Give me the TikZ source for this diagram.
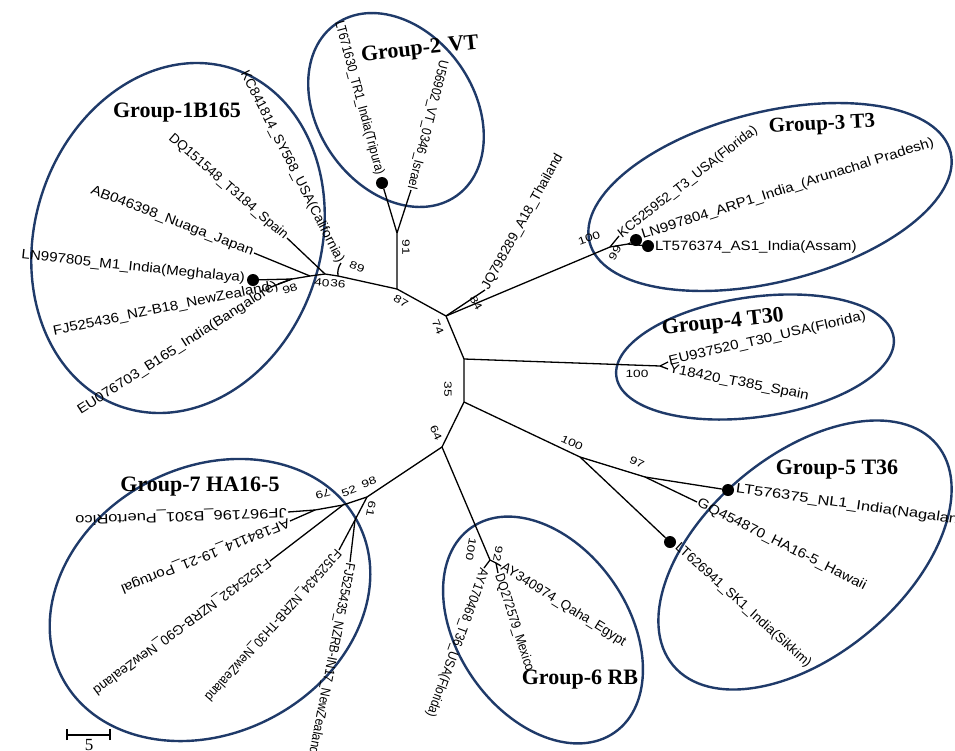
\documentclass[tikz,border=0pt]{standalone}
\usepackage{fontspec}
\setmainfont{Liberation Serif}
\newfontfamily\lfN[FakeStretch=0.88]{Liberation Sans}
\newfontfamily\lfM[FakeStretch=1.0]{Liberation Sans}
\newfontfamily\lfW[FakeStretch=1.12]{Liberation Sans}
\newfontfamily\lfX[FakeStretch=1.22]{Liberation Sans}
\newfontfamily\numf[FakeStretch=1.3]{Liberation Sans}
\definecolor{ellc}{RGB}{31,58,105}
\tikzset{
  br/.style={draw=black, line width=1.3pt},
  leaf/.style={inner sep=1pt},
  le/.style={leaf, anchor=east},
  lw/.style={leaf, anchor=west},
  fN/.style={font=\lfN\fontsize{13.5}{15}\selectfont},
  fM/.style={font=\lfM\fontsize{13.5}{15}\selectfont},
  fW/.style={font=\lfW\fontsize{13.5}{15}\selectfont},
  fX/.style={font=\lfX\fontsize{13.5}{15}\selectfont},
  bs/.style={font=\numf\fontsize{10.5}{12}\selectfont, inner sep=0pt},
  grp/.style={font=\bfseries\fontsize{22}{24}\selectfont, inner sep=0pt},
  dot/.style={circle, fill=black, minimum size=12pt, inner sep=0pt},
  ring/.style={draw=ellc, line width=2.4pt},
}
\begin{document}
\begin{tikzpicture}[x=1pt,y=-1pt]
\useasboundingbox (0,0) rectangle (955,750);

% ---------- group ellipses ----------
\draw[ring, rotate around={72:(178,238)}] (178,238) ellipse [x radius=178, y radius=143];
\draw[ring, rotate around={-55:(396,110)}] (396,110) ellipse [x radius=105, y radius=78];
\draw[ring, rotate around={14:(770,197)}] (770,197) ellipse [x radius=186, y radius=85];
\draw[ring, rotate around={8:(755,357)}] (755,357) ellipse [x radius=140, y radius=60];
\draw[ring, rotate around={40:(805,555)}] (805,555) ellipse [x radius=172, y radius=100];
\draw[ring, rotate around={-55:(543,630)}] (543,630) ellipse [x radius=125, y radius=85];
\draw[ring, rotate around={27.7:(210,600)}] (210,600) ellipse [x radius=167, y radius=133];

% ---------- backbone ----------
\coordinate (A) at (397,289);
\coordinate (B) at (446,316);
\coordinate (C) at (464,359);
\coordinate (D) at (464,402);
\coordinate (E) at (442,447);
\draw[br] (A) -- (B) -- (C) -- (D) -- (E);

% ---------- group 1 ----------
\coordinate (N89) at (338,276);
\coordinate (N36) at (325,274);
\coordinate (N40) at (310,276);
\coordinate (N98) at (292,279);
\coordinate (pKC) at (341,263);
\coordinate (pDQ) at (287,238);
\coordinate (pAB) at (254,253);
\node[dot] (dLN) at (253,280) {};
\coordinate (pFJ) at (271,287);
\coordinate (pEU) at (278,284);
\draw[br] (A) -- (N89) -- (N36) -- (N40) -- (N98) -- (dLN);
\draw[br] (N89) to[bend left=20] (pKC);
\draw[br] (N36) -- (pDQ);
\draw[br] (N40) -- (pAB);
\draw[br] (N98) -- (pFJ);
\draw[br] (N98) -- (pEU);
\node[le, fM, rotate=-63] (tKC) at (pKC) {KC841814\_SY568\_USA(California)};
\node[le, fM, rotate=-41] (tDQ) at (pDQ) {DQ151548\_T3184\_Spain};
\node[le, fW, rotate=-21] (tAB) at (pAB) {AB046398\_Nuaga\_Japan};
\node[le, fW, rotate=-6] (tLN) at (246,279) {LN997805\_M1\_India(Meghalaya)};
\node[le, fW, rotate=11.6] (tFJ) at (pFJ) {FJ525436\_NZ-B18\_NewZealand};
\node[le, fW, rotate=32.7] (tEU) at (pEU) {EU076703\_B165\_India(Bangalore)};

% ---------- group 2 ----------
\coordinate (G2) at (397,233);
\node[dot] (dTR) at (382,183) {};
\coordinate (pU5) at (411,190);
\draw[br] (A) -- (G2) -- (dTR);
\draw[br] (G2) -- (pU5);
\node[le, fN, rotate=-75] (tTR) at (380,176) {LT671630\_TR1\_India(Tripura)};
\node[le, fN, rotate=-104] (tU5) at (pU5) {U56902\_VT\_0346\_Israel};

% ---------- JQ798289 ----------
\coordinate (pJQ) at (485,290);
\draw[br] (B) -- (pJQ);
\node[lw, fM, rotate=61] (tJQ) at (pJQ) {JQ798289\_A18\_Thailand};

% ---------- group 3 ----------
\coordinate (N3) at (610,247);
\coordinate (N99) at (628,244);
\coordinate (pKC3) at (619,236);
\node[dot] (dLN4) at (636,240) {};
\node[dot] (dLT4) at (648,246) {};
\draw[br] (B) -- (N3) -- (N99) -- (dLN4);
\draw[br] (N3) -- (pKC3);
\draw[br] (N99) -- (dLT4);
\node[lw, fM, rotate=38] (tKC3) at (pKC3) {KC525952\_T3\_USA(Florida)};
\node[lw, fW, rotate=17.7] (tLN4) at (641,236) {LN997804\_ARP1\_India\_(Arunachal Pradesh)};
\node[lw, fW] (tLT4) at (654,247) {LT576374\_AS1\_India(Assam)};

% ---------- group 4 ----------
\coordinate (N4) at (660,366);
\coordinate (pEU9) at (668,362);
\coordinate (pY1) at (668,369);
\draw[br] (C) -- (N4) -- (pEU9);
\draw[br] (N4) -- (pY1);
\node[lw, fW, rotate=13] (tEU9) at (pEU9) {EU937520\_T30\_USA(Florida)};
\node[lw, fW, rotate=-11] (tY1) at (pY1) {Y18420\_T385\_Spain};

% ---------- group 5 ----------
\coordinate (N5) at (580,457);
\coordinate (N97) at (645,477);
\node[dot] (dNL) at (728,490) {};
\coordinate (pGQ) at (697,502);
\node[dot] (dSK) at (670,542) {};
\draw[br] (D) -- (N5) -- (N97) -- (dNL);
\draw[br] (N97) -- (pGQ);
\draw[br] (N5) -- (dSK);
\node[lw, fX, rotate=-8] (tNL) at (735,489) {LT576375\_NL1\_India(Nagaland)};
\node[lw, fW, rotate=-26.7] (tGQ) at (pGQ) {GQ454870\_HA16-5\_Hawaii};
\node[lw, fM, rotate=-42] (tSK) at (676,545) {LT626941\_SK1\_India(Sikkim)};

% ---------- group 6 ----------
\coordinate (N6) at (490,560);
\coordinate (N92) at (496,563);
\coordinate (pAY17) at (484,568);
\coordinate (pAY34) at (501,566);
\coordinate (pDQ27) at (498,573);
\draw[br] (E) -- (N6) -- (N92) -- (pAY34);
\draw[br] (N92) -- (pDQ27);
\draw[br] (N6) -- (pAY17);
\node[lw, fM, rotate=-32] (tAY34) at (pAY34) {AY340974\_Qaha\_Egypt};
\node[lw, fN, rotate=-72] (tDQ27) at (pDQ27) {DQ272579\_Mexico};
\node[lw, fN, rotate=-110] (tAY17) at (pAY17) {AY170468\_T36\_USA(Florida)};

% ---------- group 7 ----------
\coordinate (N7) at (367,497);
\coordinate (N52) at (343,505);
\coordinate (N79) at (315,510);
\coordinate (N61) at (355,520);
\coordinate (pJF) at (288,512);
\coordinate (pAF) at (290,521);
\coordinate (pFJ2) at (270,561);
\coordinate (pFJ4) at (339,550);
\coordinate (pFJ5) at (350,562);
\draw[br] (E) -- (N7) -- (N52) -- (N79) -- (pJF);
\draw[br] (N79) -- (pAF);
\draw[br] (N52) -- (pFJ2);
\draw[br] (N7) -- (N61) -- (pFJ4);
\draw[br] (N61) -- (pFJ5);
\node[lw, fX, rotate=182] (tJF) at (pJF) {JF967196\_B301\_PuertoRico};
\node[lw, fW, rotate=202] (tAF) at (pAF) {AF184114\_19-21\_Portugal};
\node[lw, fM, rotate=216.6] (tFJ2) at (pFJ2) {FJ525432\_NZRB-G90\_NewZealand};
\node[lw, fN, rotate=228.5] (tFJ4) at (pFJ4) {FJ525434\_NZRB-TH30\_NewZealand};
\node[lw, fN, rotate=259] (tFJ5) at (pFJ5) {FJ525435\_NZRB-IN17\_NewZealand};

% ---------- bootstrap values ----------
\node[bs, rotate=-30] (b87) at (401,301) {87};
\node[bs, rotate=-67] (b74) at (438,327) {74};
\node[bs, rotate=-90] (b35) at (448,389) {35};
\node[bs, rotate=-65] (b64) at (436,433) {64};
\node[bs, rotate=-60] (b84) at (476,303) {84};
\node[bs, rotate=-90] (b91) at (406,247) {91};
\node[bs, rotate=-20] (b89) at (357,267) {89};
\node[bs, rotate=-5] (b40) at (322,283) {40};
\node[bs, rotate=-5] (b36) at (338,284) {36};
\node[bs, rotate=20] (b98a) at (290,289) {98};
\node[bs, rotate=20] (b100c) at (589,238) {100};
\node[bs, rotate=60] (b99) at (615,253) {99};
\node[bs] (b100d) at (637,374) {100};
\node[bs, rotate=-25] (b100e) at (572,443) {100};
\node[bs, rotate=-25] (b97) at (637,462) {97};
\node[bs, rotate=-100] (b100f) at (471,549) {100};
\node[bs, rotate=-100] (b92) at (498,554) {92};
\node[bs, rotate=20] (b52) at (349,491) {52};
\node[bs, rotate=20] (b98b) at (369,482) {98};
\node[bs, rotate=195] (b79) at (323,494) {79};
\node[bs, rotate=-100] (b61) at (371,509) {61};

% ---------- group titles ----------
\node[grp] (g1) at (177,113) {Group-1B165};
\node[grp, rotate=6] (g2) at (420,50) {Group-2\,\,VT};
\node[grp, rotate=3, font=\bfseries\fontsize{21}{23}\selectfont] (g3) at (822,125) {Group-3 T3};
\node[grp, rotate=6] (g4) at (723,323) {Group-4 T30};
\node[grp] (g5) at (837,470) {Group-5 T36};
\node[grp] (g6) at (580,680) {Group-6 RB};
\node[grp] (g7) at (200,487) {Group-7 HA16-5};

% ---------- scale bar ----------
\coordinate (s1) at (67,735);
\coordinate (s2) at (110,735);
\draw[line width=1.3pt] (s1) -- (s2);
\draw[line width=1.3pt] ([yshift=-5pt]s1) -- ([yshift=6pt]s1);
\draw[line width=1.3pt] ([yshift=-5pt]s2) -- ([yshift=6pt]s2);
\node[font=\fontsize{17}{18}\selectfont, inner sep=0pt, anchor=north] (s5) at (89,739) {5};
\end{tikzpicture}
\end{document}
